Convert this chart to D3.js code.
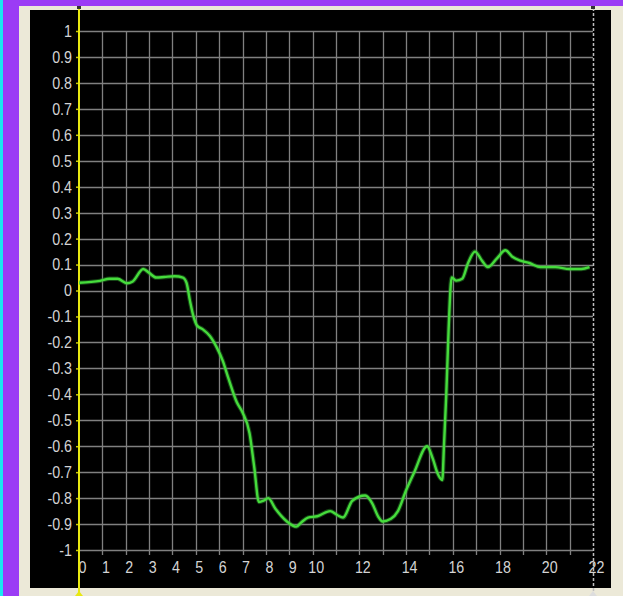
<!DOCTYPE html>
<html>
<head>
<meta charset="utf-8">
<script src="https://cdn.jsdelivr.net/npm/d3@7"></script>
<style>
  html, body { margin: 0; padding: 0; background: #9b3cf5; }
  svg { display: block; }
</style>
</head>
<body>
<svg id="chart" width="623" height="596"></svg>
<script>
// Response trace: x position vs. normalised amplitude
const xValues = [0, 0.9, 1.3, 1.65, 2.05, 2.3, 2.75, 3.0, 3.3, 3.65, 4.1, 4.45, 4.6, 4.75, 4.9, 5.05, 5.3, 5.6, 5.9, 6.15, 6.4, 6.75, 7.0, 7.3, 7.5, 7.7, 7.9, 8.1, 8.4, 8.9, 9.3, 9.5, 9.8, 10.2, 10.75, 11.05, 11.3, 11.7, 12.25, 12.55, 12.8, 13.0, 13.35, 13.65, 14.0, 14.35, 14.9, 15.15, 15.35, 15.55, 15.62, 15.72, 15.82, 15.95, 16.15, 16.4, 16.65, 16.95, 17.25, 17.5, 17.9, 18.25, 18.55, 18.9, 19.3, 19.75, 20.4, 21.0, 21.5, 21.85];
const yValues = [0.03, 0.037, 0.045, 0.045, 0.028, 0.035, 0.083, 0.068, 0.05, 0.052, 0.055, 0.05, 0.03, -0.04, -0.1, -0.135, -0.15, -0.175, -0.22, -0.27, -0.34, -0.43, -0.47, -0.55, -0.68, -0.815, -0.81, -0.80, -0.84, -0.89, -0.91, -0.895, -0.875, -0.87, -0.85, -0.865, -0.875, -0.81, -0.79, -0.82, -0.87, -0.89, -0.88, -0.85, -0.77, -0.7, -0.6, -0.65, -0.705, -0.73, -0.6, -0.4, -0.15, 0.05, 0.038, 0.045, 0.105, 0.15, 0.115, 0.09, 0.125, 0.155, 0.13, 0.115, 0.105, 0.09, 0.09, 0.083, 0.083, 0.09];

// Axis ticks and their labels
const xGrid = d3.range(1, 22);
const xTickValues = [0, 1, 2, 3, 4, 5, 6, 7, 8, 9, 10, 12, 14, 16, 18, 20, 22];
const xTickLabels = ["0", "1", "2", "3", "4", "5", "6", "7", "8", "9", "10", "12", "14", "16", "18", "20", "22"];
const yTickValues = [1, 0.9, 0.8, 0.7, 0.6, 0.5, 0.4, 0.3, 0.2, 0.1, 0, -0.1, -0.2, -0.3, -0.4, -0.5, -0.6, -0.7, -0.8, -0.9, -1];
const yTickLabels = ["1", "0.9", "0.8", "0.7", "0.6", "0.5", "0.4", "0.3", "0.2", "0.1", "0", "-0.1", "-0.2", "-0.3", "-0.4", "-0.5", "-0.6", "-0.7", "-0.8", "-0.9", "-1"];

const svg = d3.select("#chart");
const W = 623, H = 596;
const labelFont = "'Liberation Sans', Arial, sans-serif";
const narrow = 0.84; // horizontal squeeze of the tick lettering

// Window frame
svg.append("rect").attr("x", 0).attr("y", 0).attr("width", W).attr("height", H).attr("fill", "#9b3cf5");
svg.append("rect").attr("x", 0).attr("y", 0).attr("width", 3).attr("height", H).attr("fill", "#19e8f0");
svg.append("rect").attr("x", 19).attr("y", 6).attr("width", W - 19).attr("height", H - 6).attr("fill", "#ece9d8");
svg.append("rect").attr("x", 30).attr("y", 10).attr("width", 581).attr("height", 578).attr("fill", "#000");

const x = d3.scaleLinear().domain([0, 22]).range([79, 593]);
const y = d3.scaleLinear().domain([-1, 1]).range([550, 31]);

// Grid
const grid = svg.append("g").attr("stroke", "#808080").attr("stroke-width", 1.3);
grid.selectAll("line.h").data(yTickValues).join("line")
  .attr("class", "h")
  .attr("x1", x(0)).attr("x2", x(22))
  .attr("y1", d => Math.round(y(d)) + 0.5).attr("y2", d => Math.round(y(d)) + 0.5);
grid.selectAll("line.v").data(xGrid).join("line")
  .attr("class", "v")
  .attr("x1", d => Math.round(x(d)) + 0.5).attr("x2", d => Math.round(x(d)) + 0.5)
  .attr("y1", y(1)).attr("y2", y(-1) + 5);

// Right bound (dashed)
svg.append("line")
  .attr("x1", x(22) + 0.5).attr("x2", x(22) + 0.5)
  .attr("y1", 8).attr("y2", 596)
  .attr("stroke", "#bdbdbd").attr("stroke-width", 1.5)
  .attr("stroke-dasharray", "3,2");

// Y axis labels
const yAxis = d3.axisLeft(y)
  .tickValues(yTickValues)
  .tickFormat((d, i) => yTickLabels[i])
  .tickSize(3)
  .tickPadding(6);
const gy = svg.append("g").attr("transform", `translate(${x(0)},0)`).call(yAxis);
gy.select(".domain").remove();
gy.selectAll(".tick line").attr("stroke", "#c8c800").attr("stroke-width", 1.5);
gy.selectAll(".tick text")
  .attr("fill", "#d4d4d4")
  .attr("x", null)
  .attr("transform", `translate(-7,0) scale(${narrow},1)`)
  .style("font-family", labelFont)
  .style("font-size", "17px");

// X axis labels
const xAxis = d3.axisBottom(x)
  .tickValues(xTickValues)
  .tickFormat((d, i) => xTickLabels[i])
  .tickSize(0)
  .tickPadding(11);
const gx = svg.append("g").attr("transform", `translate(3,${y(-1)})`).call(xAxis);
gx.select(".domain").remove();
gx.selectAll(".tick text")
  .attr("fill", "#d4d4d4")
  .attr("transform", `scale(${narrow},1)`)
  .style("font-family", labelFont)
  .style("font-size", "17px");

// Left marker (yellow)
svg.append("line")
  .attr("x1", x(0)).attr("x2", x(0))
  .attr("y1", 6).attr("y2", 596)
  .attr("stroke", "#e8e810").attr("stroke-width", 2);
svg.append("path")
  .attr("d", `M${x(0) - 4},596 L${x(0)},591 L${x(0) + 4},596 Z`)
  .attr("fill", "#e8e810");
svg.append("rect").attr("x", x(0) - 2).attr("y", 6).attr("width", 4).attr("height", 3).attr("fill", "#333");
svg.append("path")
  .attr("d", `M${x(22) - 4},596 L${x(22)},591 L${x(22) + 4},596 Z`)
  .attr("fill", "#ddd");
svg.append("rect").attr("x", x(22) - 2).attr("y", 6).attr("width", 4).attr("height", 3).attr("fill", "#333");

// Trace
const pts = xValues.map((v, i) => [v, yValues[i]]);
const line = d3.line().x(d => x(d[0])).y(d => y(d[1])).curve(d3.curveMonotoneX);
svg.append("path").datum(pts)
  .attr("d", line).attr("fill", "none")
  .attr("stroke", "#2f9a2f").attr("stroke-opacity", 0.45)
  .attr("stroke-width", 4.5).attr("stroke-linejoin", "round");
svg.append("path").datum(pts)
  .attr("d", line).attr("fill", "none")
  .attr("stroke", "#46dc3c")
  .attr("stroke-width", 2.4).attr("stroke-linejoin", "round");
</script>
</body>
</html>
